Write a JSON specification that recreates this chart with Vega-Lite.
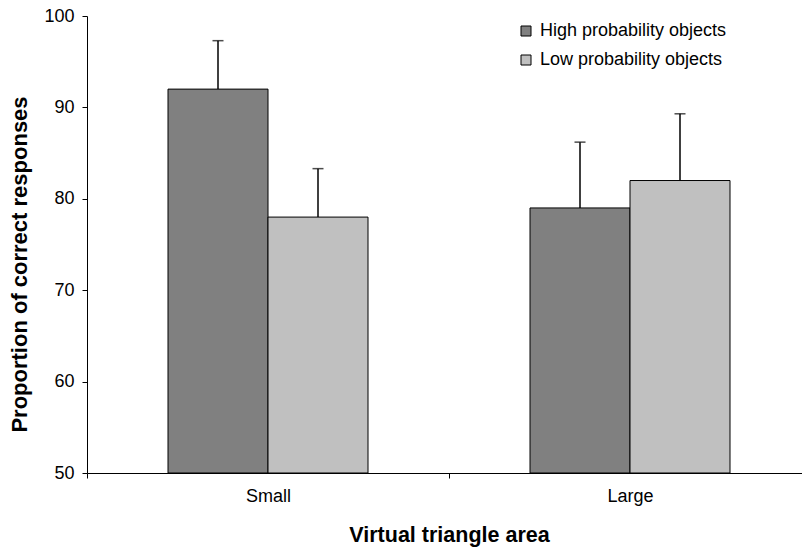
{
  "$schema": "https://vega.github.io/schema/vega-lite/v6.json",
  "width": 715,
  "height": 457,
  "autosize": {"type": "none"},
  "padding": {"left": 87, "top": 16, "right": 0, "bottom": 75},
  "config": {
    "view": {"stroke": null},
    "font": "Liberation Sans",
    "axis": {
      "grid": false,
      "domainColor": "#000000",
      "tickColor": "#000000",
      "labelColor": "#000000",
      "titleColor": "#000000",
      "labelFont": "Liberation Sans",
      "titleFont": "Liberation Sans",
      "labelFontSize": 18,
      "titleFontSize": 21.5,
      "titleFontWeight": "bold",
      "tickSize": 5,
      "domainWidth": 1,
      "tickWidth": 1
    },
    "legend": {"labelFont": "Liberation Sans"}
  },
  "data": {
    "values": [
      {"area": "Small", "type": "High probability objects", "value": 92, "upper": 97.3},
      {"area": "Small", "type": "Low probability objects", "value": 78, "upper": 83.3},
      {"area": "Large", "type": "High probability objects", "value": 79, "upper": 86.2},
      {"area": "Large", "type": "Low probability objects", "value": 82, "upper": 89.3}
    ]
  },
  "encoding": {
    "x": {
      "field": "area",
      "type": "nominal",
      "sort": ["Small", "Large"],
      "scale": {"range": [0, 724], "paddingInner": 0, "paddingOuter": 0},
      "axis": {
        "title": "Virtual triangle area",
        "labelAngle": 0,
        "tickBand": "extent",
        "labelPadding": 9,
        "titlePadding": 19
      }
    },
    "xOffset": {
      "field": "type",
      "type": "nominal",
      "sort": ["High probability objects", "Low probability objects"],
      "scale": {"paddingInner": 0, "paddingOuter": 0.81}
    }
  },
  "layer": [
    {
      "mark": {"type": "bar", "stroke": "#000000", "strokeWidth": 1},
      "encoding": {
        "y": {
          "field": "value",
          "type": "quantitative",
          "scale": {"domain": [50, 100], "zero": false, "nice": false},
          "axis": {
            "title": "Proportion of correct responses",
            "titleFontSize": 22,
            "titleY": 248,
            "values": [50, 60, 70, 80, 90, 100],
            "labelPadding": 8,
            "titlePadding": 12
          }
        },
        "y2": {"datum": 50},
        "color": {
          "field": "type",
          "type": "nominal",
          "scale": {
            "domain": ["High probability objects", "Low probability objects"],
            "range": ["#808080", "#c0c0c0"]
          },
          "legend": {
            "title": null,
            "orient": "none",
            "legendX": 430,
            "legendY": 6,
            "symbolType": "square",
            "symbolSize": 100,
            "symbolStrokeColor": "#000000",
            "symbolStrokeWidth": 1,
            "symbolOpacity": 1,
            "labelFontSize": 18,
            "labelLimit": 0,
            "labelColor": "#000000",
            "rowPadding": 11,
            "labelOffset": 5
          }
        }
      }
    },
    {
      "mark": {"type": "rule", "color": "#000000", "strokeWidth": 1.5},
      "encoding": {
        "y": {"field": "value", "type": "quantitative"},
        "y2": {"field": "upper"}
      }
    },
    {
      "mark": {"type": "tick", "color": "#000000", "thickness": 1.5, "size": 11, "orient": "horizontal"},
      "encoding": {
        "y": {"field": "upper", "type": "quantitative"}
      }
    }
  ]
}
